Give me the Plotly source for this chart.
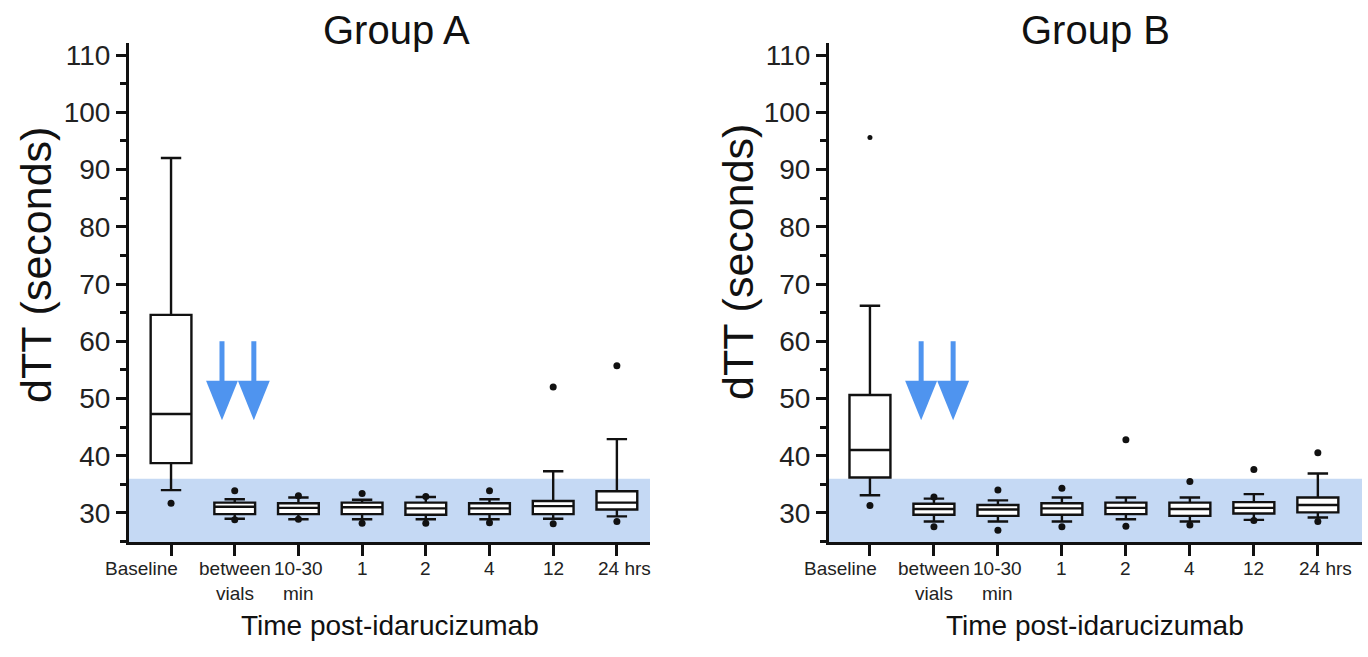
import plotly.graph_objects as go

# ---------------- data ----------------
categories = ["Baseline", "between vials", "10-30 min", "1", "2", "4", "12", "24 hrs"]
# labels as printed under the axis (with line breaks as in the figure)
tick_labels = ["Baseline", "between<br>vials", "10-30<br>min", "1", "2", "4", "12", "24 hrs"]

# Group A box statistics (seconds)
a_q1 = [38.7, 29.8, 29.8, 29.8, 29.7, 29.8, 29.8, 30.6]
a_median = [47.3, 31.1, 30.9, 31.0, 30.8, 30.8, 31.2, 31.8]
a_q3 = [64.6, 31.8, 31.7, 31.8, 31.8, 31.7, 32.1, 33.8]
a_low = [34.0, 29.0, 28.9, 28.9, 28.9, 28.9, 29.0, 29.4]
a_high = [92.0, 32.4, 32.7, 32.3, 32.8, 32.4, 37.3, 42.9]
a_out_idx = [0, 0, 1, 1, 2, 2, 3, 3, 4, 4, 5, 5, 6, 6, 7, 7]
a_out_val = [113.0, 31.7, 33.9, 28.8, 33.0, 28.9, 33.4, 28.2, 32.9, 28.2, 33.9, 28.3, 52.0, 28.1, 55.7, 28.5]

# Group B box statistics (seconds)
b_q1 = [36.2, 29.7, 29.5, 29.7, 29.8, 29.5, 29.9, 30.1]
b_median = [41.0, 30.7, 30.6, 30.8, 30.9, 30.7, 30.9, 31.4]
b_q3 = [50.6, 31.6, 31.4, 31.7, 31.8, 31.8, 31.9, 32.7]
b_low = [33.1, 28.5, 28.5, 28.5, 28.9, 28.5, 28.8, 29.2]
b_high = [66.2, 32.5, 32.2, 32.7, 32.7, 32.7, 33.3, 36.9]
b_out_idx = [0, 0, 1, 1, 2, 2, 3, 3, 4, 4, 5, 5, 6, 6, 7, 7]
b_out_val = [95.6, 31.3, 32.8, 27.6, 34.0, 27.0, 34.3, 27.6, 42.8, 27.7, 35.5, 27.9, 37.6, 28.7, 40.5, 28.5]

normal_upper = 36.0  # upper limit of the normal dTT range (shaded band)

# ---------------- styling ----------------
W, H = 1368, 657
FONT = "Liberation Sans"
BLACK = "#111111"
BAND = "#c5d9f4"
ARROW = "#4f94ef"

pos = list(range(len(categories)))

fig = go.Figure()

groups = [
    ("x", "y", a_q1, a_median, a_q3, a_low, a_high, a_out_idx, a_out_val),
    ("x2", "y2", b_q1, b_median, b_q3, b_low, b_high, b_out_idx, b_out_val),
]

for xa, ya, q1, med, q3, lo, hi, oi, ov in groups:
    fig.add_trace(go.Box(
        x=pos, q1=q1, median=med, q3=q3, lowerfence=lo, upperfence=hi,
        xaxis=xa, yaxis=ya, boxpoints=False, fillcolor="white",
        line=dict(color=BLACK, width=2.4), whiskerwidth=0.5, width=0.64,
        showlegend=False, name="", hovertext=categories,
    ))
    big_x = [pos[i] for k, i in enumerate(oi) if k != 0]
    big_y = [v for k, v in enumerate(ov) if k != 0]
    fig.add_trace(go.Scatter(
        x=big_x, y=big_y, mode="markers", xaxis=xa, yaxis=ya,
        marker=dict(color=BLACK, size=7), cliponaxis=False, showlegend=False,
    ))
    # the extreme top outlier of Baseline is drawn as a small dot
    fig.add_trace(go.Scatter(
        x=[pos[oi[0]]], y=[ov[0]], mode="markers", xaxis=xa, yaxis=ya,
        marker=dict(color=BLACK, size=5), cliponaxis=False, showlegend=False,
    ))

shapes = []
for xa, ya in [("x", "y"), ("x2", "y2")]:
    shapes.append(dict(type="rect", xref=f"{xa} domain", yref=ya, x0=0, x1=1,
                       y0=0, y1=normal_upper, fillcolor=BAND, line=dict(width=0),
                       layer="below"))
    for ax in [0.8, 1.3]:
        shapes.append(dict(type="line", xref=xa, yref=ya, x0=ax, x1=ax, y0=60, y1=53,
                           line=dict(color=ARROW, width=5)))
        shapes.append(dict(type="path", xref=xa, yref=ya,
                           path=f"M {ax-0.25},53.1 L {ax+0.25},53.1 L {ax},46.2 Z",
                           fillcolor=ARROW, line=dict(width=0)))

xcommon = dict(showline=True, linewidth=3, linecolor=BLACK, automargin=False,
               tickmode="array", tickvals=pos, showticklabels=False,
               ticks="outside", ticklen=11, tickwidth=2.5, tickcolor=BLACK,
               showgrid=False, zeroline=False)
ycommon = dict(showline=True, linewidth=3, linecolor=BLACK, range=[24.93, 112.1],
               automargin=False,
               tick0=30, dtick=10, ticks="outside", ticklen=10, tickwidth=2.5,
               tickcolor=BLACK, tickfont=dict(family=FONT, size=28, color="#222"),
               minor=dict(dtick=10, tick0=35, ticks="outside", ticklen=6,
                          tickwidth=2.5, tickcolor=BLACK),
               showgrid=False, zeroline=False, domain=[115 / H, 614 / H])


def ann(text, x, y, size, angle=0):
    return dict(text=text, x=x / W, y=(H - y) / H, xref="paper", yref="paper",
                xanchor="center", yanchor="middle", textangle=angle,
                showarrow=False, font=dict(family=FONT, size=size, color="#111"))


annotations = [
    ann("Group A", 396, 30, 40),
    ann("Group B", 1095, 30, 40),
    ann("dTT (seconds)", 36, 265, 43, -90),
    ann("dTT (seconds)", 738, 262, 43, -90),
    ann("Time post-idarucizumab", 390, 625, 28),
    ann("Time post-idarucizumab", 1095, 625, 28),
]

# category labels under each x axis
for xa, ya in [("x", "y"), ("x2", "y2")]:
    for p, lab in zip(pos, tick_labels):
        anchor, shift = "center", 0
        if p == 0:
            anchor, shift = "right", 9
        elif p == len(pos) - 1:
            shift = 8
        annotations.append(dict(
            text=lab, x=p, xref=xa, y=0, yref=f"{ya} domain",
            xanchor=anchor, yanchor="top", xshift=shift, yshift=-14,
            showarrow=False, align="center",
            font=dict(family=FONT, size=19, color="#222")))

fig.update_layout(
    width=W, height=H, margin=dict(l=0, r=0, t=0, b=0),
    paper_bgcolor="white", plot_bgcolor="white",
    xaxis=dict(xcommon, domain=[129 / W, 650 / W], range=[-0.66, 7.52], anchor="y"),
    yaxis=dict(ycommon, anchor="x"),
    xaxis2=dict(xcommon, domain=[829 / W, 1362 / W], range=[-0.64, 7.69], anchor="y2"),
    yaxis2=dict(ycommon, anchor="x2"),
    shapes=shapes,
    annotations=annotations,
)

fig.write_html("out.html", config={"displayModeBar": False},
               post_script="document.body.style.margin='0';")
